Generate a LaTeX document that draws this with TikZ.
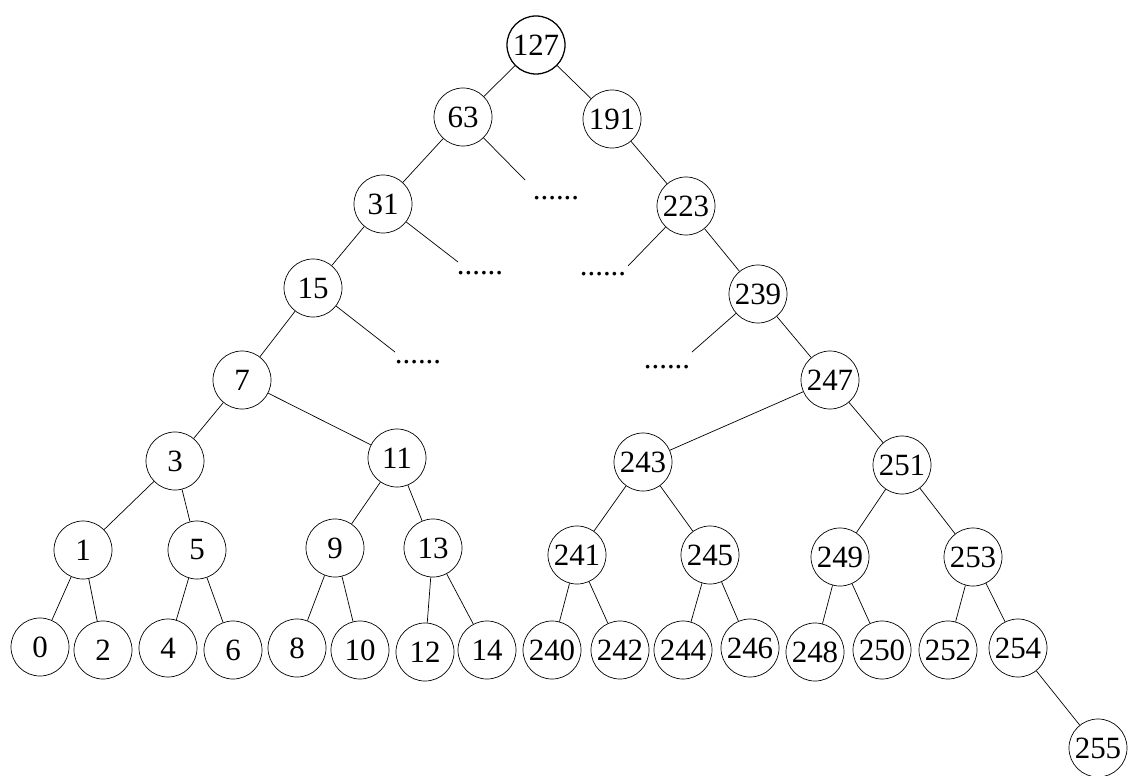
\documentclass[tikz,border=0pt]{standalone}
\usepackage{fontspec}
\setmainfont{Liberation Serif}
\begin{document}
\begin{tikzpicture}[x=0.025cm,y=-0.025cm,
  nd/.style={circle,draw,line width=0.5pt,minimum size=1.45cm,inner sep=0pt,font=\fontsize{22}{26}\selectfont},
  root/.style={nd,line width=0.9pt},
  dts/.style={inner sep=0pt,font=\fontsize{22}{26}\selectfont},
  ed/.style={line width=0.5pt}]
\useasboundingbox (0,0) rectangle (1132,776);
% level 0-4
\node[root] (n127) at (536,45) {127};
\node[nd] (n63) at (463,117) {63};
\node[nd] (n191) at (612,119) {191};
\node[nd] (n31) at (383,204) {31};
\node[nd] (n223) at (686,206) {223};
\node[nd] (n15) at (313,288) {15};
\node[nd] (n239) at (758,294) {239};
\node[nd] (n7) at (242,380) {7};
\node[nd] (n247) at (830,380) {247};
% level 5
\node[nd] (n3) at (175,461) {3};
\node[nd] (n11) at (397,458) {11};
\node[nd] (n243) at (643,462) {243};
\node[nd] (n251) at (902,465) {251};
% level 6
\node[nd] (n1) at (83,550) {1};
\node[nd] (n5) at (197,550) {5};
\node[nd] (n9) at (335,548) {9};
\node[nd] (n13) at (433,548) {13};
\node[nd] (n241) at (577,555) {241};
\node[nd] (n245) at (710,555) {245};
\node[nd] (n249) at (840,557) {249};
\node[nd] (n253) at (973,557) {253};
% leaves
\node[nd] (n0) at (40,647) {0};
\node[nd] (n2) at (103,650) {2};
\node[nd] (n4) at (168,648) {4};
\node[nd] (n6) at (233,650) {6};
\node[nd] (n8) at (297,648) {8};
\node[nd] (n10) at (360,650) {10};
\node[nd] (n12) at (425,652) {12};
\node[nd] (n14) at (487,650) {14};
\node[nd] (n240) at (552,650) {240};
\node[nd] (n242) at (620,650) {242};
\node[nd] (n244) at (683,650) {244};
\node[nd] (n246) at (750,648) {246};
\node[nd] (n248) at (815,652) {248};
\node[nd] (n250) at (882,650) {250};
\node[nd] (n252) at (948,650) {252};
\node[nd] (n254) at (1018,648) {254};
\node[nd] (n255) at (1098,748) {255};
% dots
\node[dts] (dA) at (556,198) {......};
\node[dts] (dB) at (480,273) {......};
\node[dts] (dC) at (603,274) {......};
\node[dts] (dD) at (418,362) {......};
\node[dts] (dE) at (667,367) {......};
\coordinate (eA) at (525,180);
\coordinate (eB) at (458,262);
\coordinate (eC) at (628,266);
\coordinate (eD) at (395,352);
\coordinate (eE) at (692,352);
% edges
\draw[ed] (n127) -- (n63);
\draw[ed] (n127) -- (n191);
\draw[ed] (n63) -- (n31);
\draw[ed] (n63) -- (eA);
\draw[ed] (n191) -- (n223);
\draw[ed] (n31) -- (n15);
\draw[ed] (n31) -- (eB);
\draw[ed] (n223) -- (eC);
\draw[ed] (n223) -- (n239);
\draw[ed] (n15) -- (n7);
\draw[ed] (n15) -- (eD);
\draw[ed] (n239) -- (eE);
\draw[ed] (n239) -- (n247);
\draw[ed] (n7) -- (n3);
\draw[ed] (n7) -- (n11);
\draw[ed] (n247) -- (n243);
\draw[ed] (n247) -- (n251);
\draw[ed] (n3) -- (n1);
\draw[ed] (n3) -- (n5);
\draw[ed] (n11) -- (n9);
\draw[ed] (n11) -- (n13);
\draw[ed] (n243) -- (n241);
\draw[ed] (n243) -- (n245);
\draw[ed] (n251) -- (n249);
\draw[ed] (n251) -- (n253);
\draw[ed] (n1) -- (n0);
\draw[ed] (n1) -- (n2);
\draw[ed] (n5) -- (n4);
\draw[ed] (n5) -- (n6);
\draw[ed] (n9) -- (n8);
\draw[ed] (n9) -- (n10);
\draw[ed] (n13) -- (n12);
\draw[ed] (n13) -- (n14);
\draw[ed] (n241) -- (n240);
\draw[ed] (n241) -- (n242);
\draw[ed] (n245) -- (n244);
\draw[ed] (n245) -- (n246);
\draw[ed] (n249) -- (n248);
\draw[ed] (n249) -- (n250);
\draw[ed] (n253) -- (n252);
\draw[ed] (n253) -- (n254);
\draw[ed] (n254) -- (n255);
\end{tikzpicture}
\end{document}
